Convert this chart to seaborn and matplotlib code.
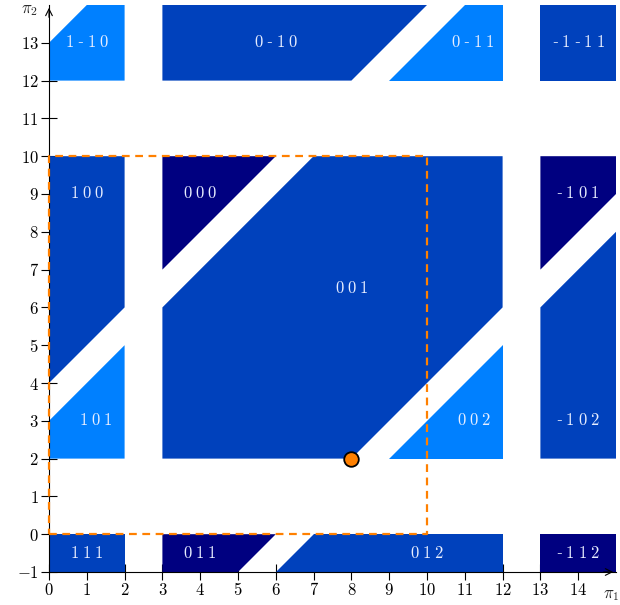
import matplotlib
matplotlib.use("Agg")
import matplotlib.pyplot as plt
import seaborn as sns
import pandas as pd

sns.set_theme(style="white")
plt.rcParams["font.family"] = ["DejaVu Serif"]
plt.rcParams["mathtext.fontset"] = "cm"

# ---- data -------------------------------------------------------------
region_labels = ["1-10", "0-10", "0-11", "-1-11",
                 "100", "101", "000", "001", "002", "-101", "-102",
                 "111", "011", "012", "-112"]
region_shade = ["light", "mid", "light", "mid",
                "mid", "light", "dark", "mid", "light", "dark", "mid",
                "mid", "dark", "mid", "dark"]
region_x = [[0, 2, 2, 1, 0], [3, 8, 10, 3], [9, 12, 12, 11], [13, 15, 15, 13],
            [0, 2, 2, 0], [0, 2, 2, 0], [3, 6, 3], [3, 8, 12, 12, 7, 3], [9, 12, 12],
            [13, 15, 15, 13], [13, 15, 15, 13],
            [0, 2, 2, 0], [3, 5, 6, 3], [6, 12, 12, 7], [13, 15, 15, 13]]
region_y = [[12, 12, 14, 14, 13], [12, 12, 14, 14], [12, 12, 14, 14], [12, 12, 14, 14],
            [4, 6, 10, 10], [2, 2, 5, 3], [7, 10, 10], [2, 2, 6, 10, 10, 6], [2, 2, 5],
            [7, 9, 10, 10], [2, 2, 8, 6],
            [-1, -1, 0, 0], [-1, -1, 0, 0], [-1, -1, 0, 0], [-1, -1, 0, 0]]
label_x = [1, 6, 11.2, 14, 1, 1.25, 4, 8, 11.25, 14, 14, 1, 4, 10, 14]
label_y = [13, 13, 13, 13, 9, 3, 9, 6.5, 3, 9, 3, -0.5, -0.5, -0.5, -0.5]

box_x = [0, 10, 10, 0, 0]
box_y = [0, 0, 10, 10, 0]
point_x = [8]
point_y = [2]

x_ticks = list(range(0, 15))
y_ticks = list(range(-1, 14))

# ---- drawing ----------------------------------------------------------
palette = {"light": "#0080FF", "mid": "#0041BC", "dark": "#000080"}

fig = plt.figure(figsize=(6.2, 6.05), dpi=100)
ax = fig.add_axes([49 / 620, 33 / 605, 567 / 620, 567 / 605])


def spaced(s):
    # letter-spaced rendering: digits in math (CM), hyphen as text
    parts = []
    n = len(s)
    for i, ch in enumerate(s):
        sp = r"\;" if i < n - 1 else ""
        if ch == "-":
            parts.append("-" + (r"$\;$" if sp else ""))
        else:
            parts.append(r"$\mathrm{%s}%s$" % (ch, sp))
    return "".join(parts)


for xs, ys, sh, lab, lx, ly in zip(region_x, region_y, region_shade,
                                   region_labels, label_x, label_y):
    ax.fill(xs, ys, color=palette[sh], lw=0, zorder=1)
    ax.text(lx, ly, spaced(lab), color="#E8EEFF", fontsize=12,
            ha="center", va="center", zorder=2)

ax.plot(box_x, box_y, color="#FF8000", lw=1.6, ls=(0, (3.5, 2.5)), zorder=4,
        clip_on=False)

pts = pd.DataFrame({"x": point_x, "y": point_y})
sns.scatterplot(data=pts, x="x", y="y", ax=ax, s=110, color="#FF8000",
                edgecolor="black", linewidth=1.3, zorder=5, clip_on=False)

ax.set_xlim(0, 15)
ax.set_ylim(-1, 14)
ax.set_xticks(x_ticks)
ax.set_yticks(y_ticks)
ax.set_xticklabels([r"$%d$" % v for v in x_ticks])
ax.set_yticklabels([r"$%d$" % v for v in y_ticks])
ax.tick_params(axis="both", direction="inout", length=11, width=0.8,
               labelsize=12, colors="black", bottom=True, left=True)
ax.tick_params(axis="x", pad=2)
ax.tick_params(axis="y", pad=2)
ax.set_xlabel("")
ax.set_ylabel("")
for side in ["top", "right"]:
    ax.spines[side].set_visible(False)
for side in ["left", "bottom"]:
    ax.spines[side].set_color("black")
    ax.spines[side].set_linewidth(0.8)
    ax.spines[side].set_zorder(3)

ax.annotate("", xy=(15.0, -1), xytext=(14.6, -1),
            arrowprops=dict(arrowstyle="->", lw=0.8, color="black"),
            annotation_clip=False)
ax.annotate("", xy=(0, 14.0), xytext=(0, 13.6),
            arrowprops=dict(arrowstyle="->", lw=0.8, color="black"),
            annotation_clip=False)
ax.text(15.1, -1.6, r"$\pi_1$", fontsize=12, ha="right", va="center",
        clip_on=False)
ax.text(-0.3, 14.1, r"$\pi_2$", fontsize=12, ha="right", va="top",
        clip_on=False)

fig.savefig("out.png", dpi=100)
